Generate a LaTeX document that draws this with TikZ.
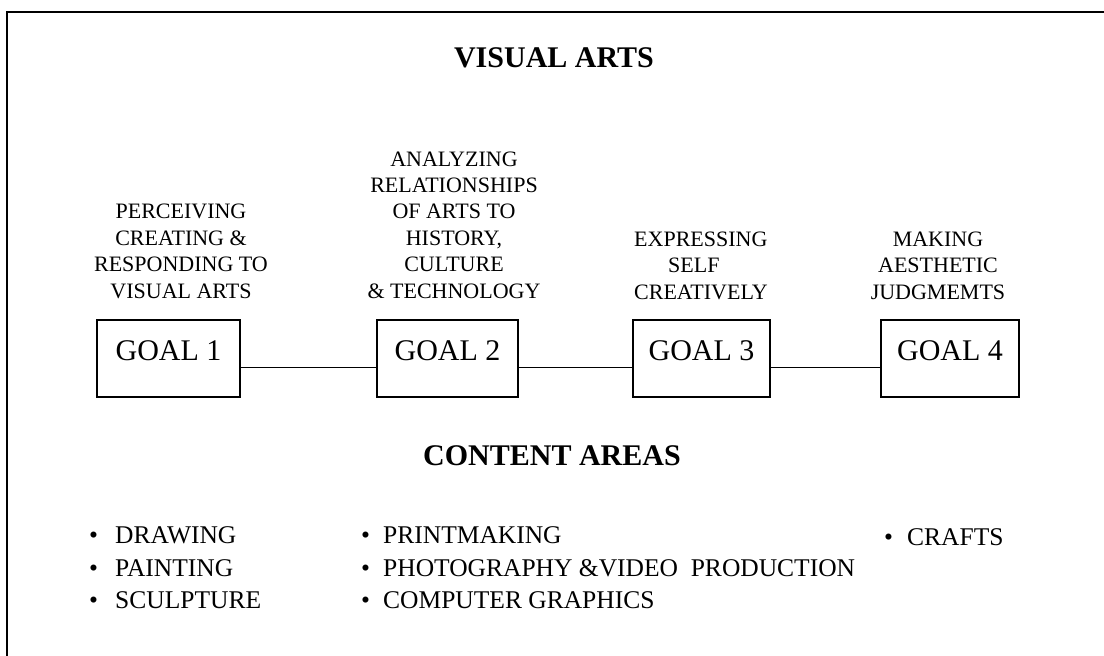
\documentclass[tikz,border=0pt]{standalone}
\usepackage{fontspec}
\setmainfont{Liberation Serif}
\begin{document}
\begin{tikzpicture}[x=1pt,y=-1pt,
  titletext/.style={font=\fontsize{30}{36}\selectfont\bfseries, inner sep=0pt, anchor=base},
  goaltext/.style={font=\fontsize{22}{26.4}\selectfont, align=center, inner sep=0pt, anchor=base},
  goalbox/.style={draw, line width=1.8pt, font=\fontsize{30}{36}\selectfont, inner sep=0pt,
                  minimum width=140pt, text height=40pt, text depth=37pt, anchor=base},
  link/.style={line width=1.8pt},
  itemtext/.style={font=\fontsize{25.5}{30}\selectfont, inner sep=0pt, anchor=base west}]
\useasboundingbox (0,0) rectangle (1104,656);
% frame (top and left edges only)
\coordinate (fa) at (7,656);
\coordinate (fb) at (7,12);
\coordinate (fc) at (1104,12);
\draw[line width=1.8pt] (fa) -- (fb) -- (fc);

\node[titletext] (t1) at (554,67) {VISUAL ARTS};

\node[goaltext] (l1) at (181,298) {PERCEIVING\\CREATING \&\\RESPONDING TO\\VISUAL ARTS};
\node[goaltext] (l2) at (454,298) {ANALYZING\\RELATIONSHIPS\\OF ARTS TO\\HISTORY,\\CULTURE\\\& TECHNOLOGY};
\node[goaltext, align=left, anchor=base west] (l3) at (634,299) {EXPRESSING\\\hspace*{34pt}SELF\\CREATIVELY};
\node[goaltext] (l4) at (938,299) {MAKING\\AESTHETIC\\JUDGMEMTS};

\node[goalbox, minimum width=143pt] (g1) at (168.5,360) {GOAL 1};
\node[goalbox, minimum width=141pt] (g2) at (447.5,360) {GOAL 2};
\node[goalbox, minimum width=137pt] (g3) at (701.5,360) {GOAL 3};
\node[goalbox, minimum width=138pt] (g4) at (950,360) {GOAL 4};

\draw[link] ([yshift=-9pt]g1.east) -- ([yshift=-9pt]g2.west);
\draw[link] ([yshift=-9pt]g2.east) -- ([yshift=-9pt]g3.west);
\draw[link] ([yshift=-9pt]g3.east) -- ([yshift=-9pt]g4.west);

\node[titletext] (t2) at (552,465) {CONTENT AREAS};

\node[itemtext] (a1) at (89,543) {\makebox[26pt][l]{•}DRAWING};
\node[itemtext] (a2) at (89,576) {\makebox[26pt][l]{•}PAINTING};
\node[itemtext] (a3) at (89,608) {\makebox[26pt][l]{•}SCULPTURE};
\node[itemtext] (b1) at (361,543) {\makebox[22pt][l]{•}PRINTMAKING};
\node[itemtext] (b2) at (361,576) {\makebox[22pt][l]{•}PHOTOGRAPHY \&VIDEO\ \ PRODUCTION};
\node[itemtext] (b3) at (361,608) {\makebox[22pt][l]{•}COMPUTER GRAPHICS};
\node[itemtext] (c1) at (884,545) {\makebox[23pt][l]{•}CRAFTS};
\end{tikzpicture}
\end{document}
